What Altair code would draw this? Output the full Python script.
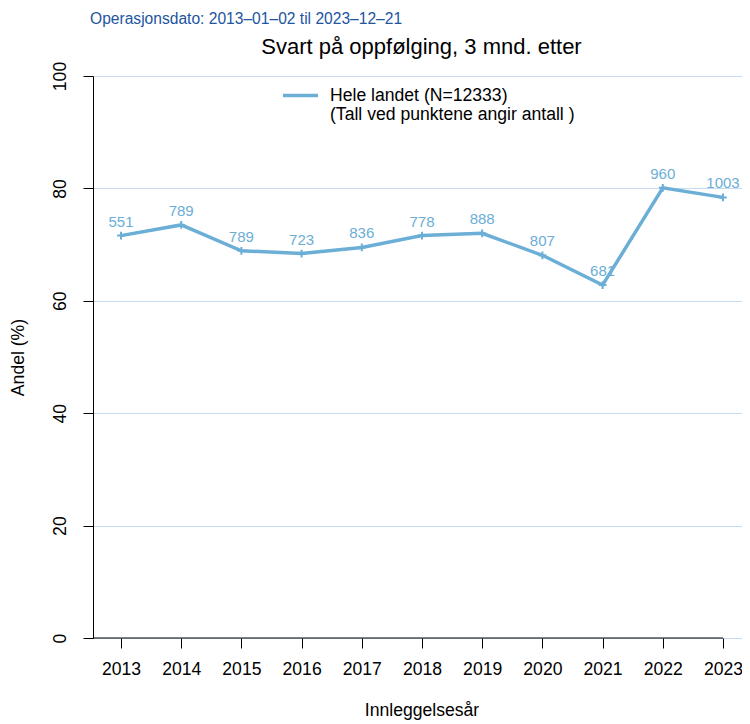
import json
import altair as alt
import pandas as pd

# ---- data ----
years = [2013, 2014, 2015, 2016, 2017, 2018, 2019, 2020, 2021, 2022, 2023]
andel = [71.6, 73.5, 68.9, 68.4, 69.5, 71.6, 72.0, 68.1, 62.8, 80.1, 78.4]
antall = [551, 789, 789, 723, 836, 778, 888, 807, 681, 960, 1003]
y_ticks = [0, 20, 40, 60, 80, 100]

serie_label = "Hele landet (N=12333)"
note_label = "(Tall ved punktene angir antall )"
title_text = "Svart på oppfølging, 3 mnd. etter"
date_text = "Operasjonsdato: 2013\u201301\u201302 til 2023\u201312\u201321"
x_title = "Innleggelsesår"
y_title = "Andel (%)"

FONT = "Liberation Sans"
BLUE = "#6baed6"
GRID = "#c6dbef"
DATE_BLUE = "#2255a0"

W, H = 649, 562
CX = 328.5  # horizontal centre used by the title texts

df = pd.DataFrame({"aar": years, "andel": andel, "antall": antall, "serie": serie_label})

x_enc = alt.X(
    "aar:Q",
    scale=alt.Scale(domain=[2012.535, 2023.316], nice=False, zero=False),
    axis=alt.Axis(
        values=years, format="d", grid=False, domain=False,
        tickSize=10, tickColor="black", tickWidth=1,
        labelPadding=12, labelFontSize=17.6, labelColor="black", labelFont=FONT,
        labelFlush=False,
        title=x_title, titleFont=FONT, titleFontSize=17.6, titleFontWeight="normal",
        titleColor="black", titleX=CX, titleY=72, titleAlign="center",
        titleBaseline="middle",
    ),
)
y_enc = alt.Y(
    "andel:Q",
    scale=alt.Scale(domain=[0, 100], nice=False, zero=True),
    axis=alt.Axis(
        values=y_ticks, grid=True, gridColor=GRID, gridWidth=1,
        domainColor="black", domainWidth=1,
        tickSize=10, tickColor="black", tickWidth=1,
        labelAngle=270, labelAlign="center", labelBaseline="middle",
        labelPadding=23, labelFontSize=17.6, labelColor="black", labelFont=FONT,
        title=y_title, titleFont=FONT, titleFontSize=17.6, titleFontWeight="normal",
        titleColor="black", titleAngle=270, titleX=-75, titleY=H / 2,
        titleAlign="center", titleBaseline="middle",
    ),
)

base = alt.Chart(df)

labels = base.mark_text(
    color=BLUE, fontSize=15, font=FONT, dy=-9, baseline="alphabetic", align="center"
).encode(x=x_enc, y=y_enc, text="antall:Q")

line = base.mark_line(strokeWidth=3.5).encode(
    x=x_enc,
    y=y_enc,
    color=alt.Color(
        "serie:N",
        scale=alt.Scale(range=[BLUE]),
        legend=alt.Legend(
            title=None, orient="none", legendX=188, legendY=0,
            symbolType="stroke", symbolSize=1225, symbolStrokeWidth=3.5,
            symbolStrokeColor=BLUE,
            labelFont=FONT, labelFontSize=17.6, labelColor="black",
            labelOffset=10, labelLimit=0, padding=0,
            labelExpr=f"[datum.label, {json.dumps(note_label)}]",
        ),
    ),
)

points = base.mark_point(
    shape="M0,-1V1M-1,0H1", size=60, strokeWidth=2, color=BLUE, filled=False, opacity=1
).encode(x=x_enc, y=y_enc)

axis_df = pd.DataFrame({"aar": [years[-1]]})
xaxis_line = alt.Chart(axis_df).mark_rule(color="black", strokeWidth=1).encode(
    x=x_enc, x2=alt.value(0), y=alt.value(H)
)

date_df = pd.DataFrame({"t": [date_text]})
date_mark = alt.Chart(date_df).mark_text(
    align="left", baseline="middle", fontSize=15.6, font=FONT, color=DATE_BLUE
).encode(x=alt.value(-3), y=alt.value(-57), text="t:N")

title_df = pd.DataFrame({"t": [title_text]})
title_mark = alt.Chart(title_df).mark_text(
    align="center", baseline="middle", fontSize=22, font=FONT, color="black"
).encode(x=alt.value(CX), y=alt.value(-29.5), text="t:N")

chart = (
    alt.layer(labels, line, points, xaxis_line, date_mark, title_mark)
    .properties(
        width=W, height=H,
        autosize=alt.AutoSizeParams(type="none"),
        padding={"left": 85, "top": 68, "right": 0, "bottom": 84},
        background="white",
    )
    .configure_view(stroke=None)
)

chart.save("out.html", embed_options={"renderer": "svg", "actions": False})
